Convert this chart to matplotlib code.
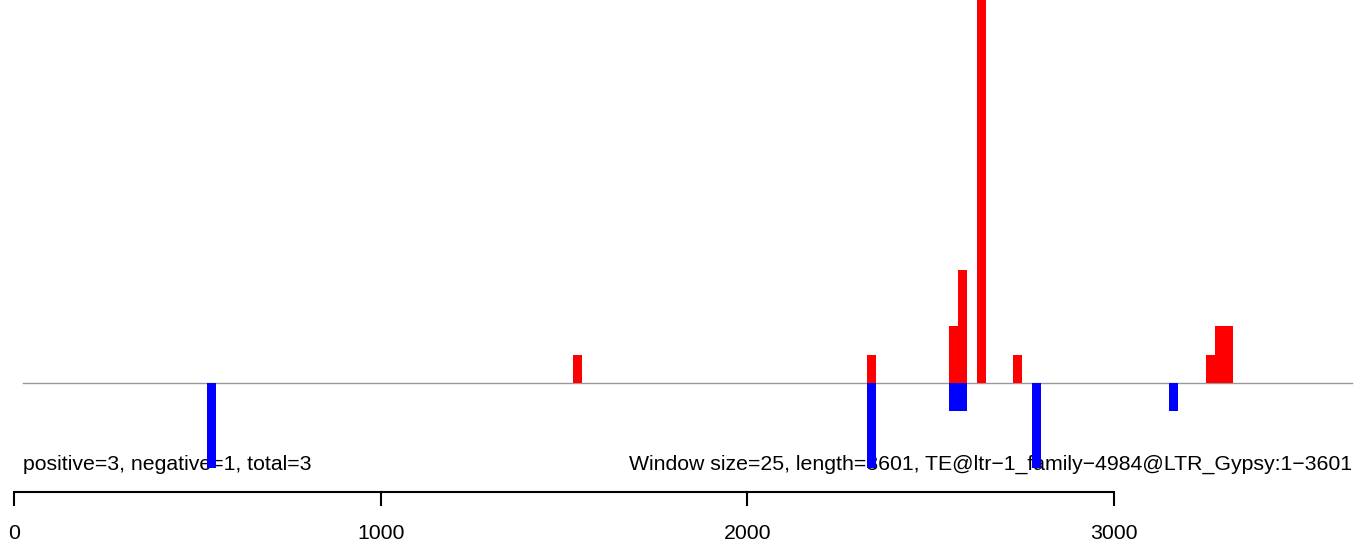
import matplotlib
matplotlib.use("Agg")
import matplotlib.pyplot as plt

# ---------- DATA ----------
window_size = 25
seq_length = 3601

pos_starts = [1525, 2325, 2550, 2575, 2625, 2725, 3250, 3275, 3300]
pos_values = [1, 1, 2, 4, 20, 1, 1, 2, 2]

neg_starts = [525, 2325, 2550, 2575, 2775, 3150]
neg_values = [-3, -3, -1, -1, -3, -1]

tick_positions = [0, 1000, 2000, 3000]
tick_labels = ["0", "1000", "2000", "3000"]

left_label = "positive=3, negative=1, total=3"
right_label = ("Window size=25, length=3601, "
               "TE@ltr\u22121_family\u22124984@LTR_Gypsy:1\u22123601")

# ---------- PLOT ----------
plt.rcParams["font.family"] = ["Liberation Sans", "DejaVu Sans"]

W, H = 1369, 544
fig = plt.figure(figsize=(W / 100, H / 100), dpi=100)
ax = fig.add_axes([0, 0, 1, 1])

px_per_unit_x = 1100 / 3000.0
px_per_unit_y = 28.33
x0_px, y0_px = 14, 383

ax.set_xlim(-x0_px / px_per_unit_x, (W - x0_px) / px_per_unit_x)
ax.set_ylim(-(H - y0_px) / px_per_unit_y, y0_px / px_per_unit_y)
ax.axis("off")

ax.bar(pos_starts, pos_values, width=window_size, align="edge",
       color="#ff0000", linewidth=0, zorder=2)
ax.bar(neg_starts, neg_values, width=window_size, align="edge",
       color="#0000ff", linewidth=0, zorder=2)

# zero line
ax.plot([25, 3650], [0, 0], color="#999999", linewidth=1, zorder=1)

# R-style bottom axis
axis_y = -(492 - y0_px) / px_per_unit_y
tick_len = 13 / px_per_unit_y
ax.plot([tick_positions[0], tick_positions[-1]], [axis_y, axis_y],
        color="black", linewidth=1.5, solid_capstyle="butt")
for tp, tl in zip(tick_positions, tick_labels):
    ax.plot([tp, tp], [axis_y, axis_y - tick_len], color="black", linewidth=1.5)
    ax.text(tp, -(539 - y0_px) / px_per_unit_y, tl, ha="center",
            va="baseline", fontsize=15.3)

text_y = -(470 - y0_px) / px_per_unit_y
ax.text(25, text_y, left_label, ha="left", va="baseline", fontsize=15.3, zorder=1)
ax.text(3650, text_y, right_label, ha="right", va="baseline", fontsize=15.3, zorder=1)

fig.savefig("out.png", dpi=100, facecolor="white")
